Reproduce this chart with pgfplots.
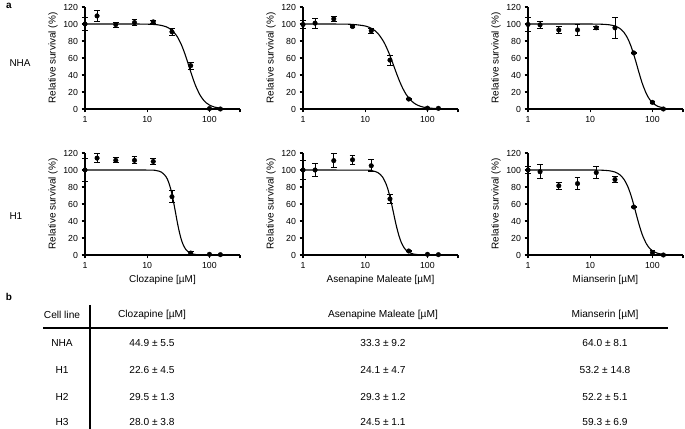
\documentclass[border=0pt]{standalone}
\usepackage{fontspec}
\setmainfont{Liberation Sans}
\usepackage{pgfplots}
\usepackage{pgfplotstable}
\pgfplotsset{compat=1.18}

\pgfplotstableread{
x y e
1 100 8
1.5625 109.5 6
3.125 99.3 3
6.25 101.7 4
12.5 102.5 2
25 90.8 4
50 51 4
100 0.5 0
150 0 0
}\dA
\pgfplotstableread{
x y e
1 99.4 5
1.5625 101 6
3.125 106 3
6.25 97 1
12.5 92 3
25 57.5 6
50 11.7 1
100 1 1
150 0.8 0
}\dB
\pgfplotstableread{
x y e
1 99.5 8
1.5625 99 4
3.125 93 4
6.25 93 6
12.5 95.5 2
25 95.5 12
50 66 1
100 7.8 1
150 0 0
}\dC
\pgfplotstableread{
x y e
1 100 14
1.5625 114 5
3.125 111.4 3
6.25 111.4 4
12.5 110 3
25 68.6 7
50 2.3 1.5
100 0.8 0
150 0.4 0
}\dD
\pgfplotstableread{
x y e
1 100 11
1.5625 100 8
3.125 111 8
6.25 112 5
12.5 105 7
25 66 5
50 4.7 1
100 0.8 0
150 0.4 0
}\dE
\pgfplotstableread{
x y e
1 100 4
1.5625 98 8
3.125 81.4 4
6.25 84 7
12.5 97 7
25 88.8 4
50 56.5 1
100 2.7 3
150 0 0
}\dF

\pgfplotsset{
  mypanel/.style={
    scale only axis, width=155bp, height=102bp,
    xmin=1, xmax=310, ymin=0, ymax=120,
    axis lines=left, axis line style={-, line width=1.6bp},
    xtick={1,10,100,310}, xticklabels={1,10,100,{}},
    ytick={0,20,40,60,80,100,120},
    minor tick length=0pt, major tick length=3.5bp,
    tick align=outside, tick style={line width=1.3bp, black},
    ticklabel style={font=\fontsize{8.8}{10}\selectfont},
    ylabel={Relative survival (\%)},
    every axis y label/.style={at={(axis description cs:0,0.5)}, xshift=-32bp, rotate=90, anchor=center, font=\fontsize{10}{11}\selectfont},
    every axis x label/.style={at={(axis description cs:0.5,0)}, yshift=-25bp, anchor=center, font=\fontsize{10}{11}\selectfont},
    clip=false,
  },
  mypts/.style={only marks, mark=*, mark size=2.3bp, black,
    error bars/y dir=both, error bars/y explicit,
    error bars/error bar style={line width=0.9bp, black},
    error bars/error mark options={rotate=90, mark size=2.8bp, line width=0.9bp, black}},
  myfit/.style={smooth, line width=1.1bp, black, no marks},
}

\begin{document}
\begin{tikzpicture}
\useasboundingbox (0,0) rectangle (685bp,429bp);

% ---------- top row: NHA ----------
\begin{semilogxaxis}[mypanel, /pgf/number format/assume math mode=true, at={(85bp,320bp)}, anchor=south west]
\addplot[myfit] coordinates {(1,100)(5,99.99)(10,99.8)(15,98.97)(20,96.83)(25,92.59)(30,85.76)(35,76.48)(40,65.59)(45,54.34)(50,43.84)(55,34.78)(60,27.35)(70,16.89)(80,10.65)(90,6.92)(100,4.65)(120,2.30)(150,0.95)};
\addplot[mypts] table[x=x,y=y,y error=e] {\dA};
\end{semilogxaxis}

\begin{semilogxaxis}[mypanel, /pgf/number format/assume math mode=true, at={(303bp,320bp)}, anchor=south west]
\addplot[myfit] coordinates {(1,100)(3,99.96)(6,99.60)(10,97.65)(13,94.31)(16,88.91)(20,78.59)(24,65.98)(28,53.07)(32,41.47)(36,31.93)(40,24.50)(45,17.69)(50,12.94)(60,7.28)(70,4.38)(85,2.27)(100,1.30)(150,0.32)};
\addplot[mypts] table[x=x,y=y,y error=e] {\dB};
\end{semilogxaxis}

\begin{semilogxaxis}[mypanel, /pgf/number format/assume math mode=true, at={(528bp,320bp)}, anchor=south west]
\addplot[myfit] coordinates {(1,100)(5,100)(10,99.96)(15,99.75)(20,99.11)(25,97.61)(30,94.73)(35,89.98)(40,83.11)(45,74.34)(50,64.32)(55,54.01)(60,44.26)(65,35.63)(70,28.40)(80,17.87)(90,11.35)(100,7.38)(120,3.39)(150,1.27)};
\addplot[mypts] table[x=x,y=y,y error=e] {\dC};
\end{semilogxaxis}

% ---------- bottom row: H1 ----------
\begin{semilogxaxis}[mypanel, /pgf/number format/assume math mode=true, at={(85bp,174bp)}, anchor=south west, xlabel={Clozapine [µM]}]
\addplot[myfit] coordinates {(1,100)(10,99.93)(14,99.31)(17,97.38)(20,92.27)(22,85.96)(24,76.91)(26,65.53)(28,53.09)(30,41.12)(32,30.77)(35,19.18)(38,11.78)(42,6.21)(46,3.39)(50,1.92)(60,0.54)(80,0.07)(150,0)};
\addplot[mypts] table[x=x,y=y,y error=e] {\dD};
\end{semilogxaxis}

\begin{semilogxaxis}[mypanel, /pgf/number format/assume math mode=true, at={(303bp,174bp)}, anchor=south west, xlabel={Asenapine Maleate [µM]}]
\addplot[myfit] coordinates {(1,100)(10,99.81)(13,99.09)(16,96.90)(19,91.77)(22,82.24)(24,73.30)(26,62.95)(28,52.13)(30,41.86)(32,32.82)(35,22.20)(38,14.84)(42,8.72)(46,5.25)(50,3.25)(60,1.11)(80,0.20)(150,0)};
\addplot[mypts] table[x=x,y=y,y error=e] {\dE};
\end{semilogxaxis}

\begin{semilogxaxis}[mypanel, /pgf/number format/assume math mode=true, at={(528bp,174bp)}, anchor=south west, xlabel={Mianserin [µM]}]
\addplot[myfit] coordinates {(1,100)(10,99.97)(15,99.79)(20,99.16)(25,97.58)(30,94.38)(35,88.90)(40,80.85)(45,70.58)(50,59.13)(55,47.80)(60,37.62)(65,29.11)(70,22.34)(80,13.16)(90,7.93)(100,4.94)(120,2.12)(150,0.74)};
\addplot[mypts] table[x=x,y=y,y error=e] {\dF};
\end{semilogxaxis}

% ---------- labels ----------
\node[anchor=center, font=\fontsize{10}{11}\selectfont\bfseries] at (9bp,423bp) {a};
\node[anchor=center, font=\fontsize{10}{11}\selectfont\bfseries] at (9bp,132bp) {b};
\node[anchor=west, font=\fontsize{10}{11}\selectfont] at (6bp,366bp) {NHA};
\node[anchor=west, font=\fontsize{10}{11}\selectfont] at (6bp,213bp) {H1};

% ---------- table ----------
\begin{scope}[every node/.style={anchor=center, font=\fontsize{10.2}{12}\selectfont}]
\draw[line width=1.4bp] (43bp,101bp) -- (668bp,101bp);
\draw[line width=1.4bp] (90bp,124bp) -- (90bp,0bp);
\node at (62bp,114bp) {Cell line};
\node at (152bp,114bp) {Clozapine [µM]};
\node at (383bp,114bp) {Asenapine Maleate [µM]};
\node at (605bp,114bp) {Mianserin [µM]};
\node at (62bp,86bp) {NHA};
\node at (152bp,86bp) {44.9 ± 5.5};
\node at (383bp,86bp) {33.3 ± 9.2};
\node at (605bp,86bp) {64.0 ± 8.1};
\node at (62bp,59bp) {H1};
\node at (152bp,59bp) {22.6 ± 4.5};
\node at (383bp,59bp) {24.1 ± 4.7};
\node at (605bp,59bp) {53.2 ± 14.8};
\node at (62bp,32bp) {H2};
\node at (152bp,32bp) {29.5 ± 1.3};
\node at (383bp,32bp) {29.3 ± 1.2};
\node at (605bp,32bp) {52.2 ± 5.1};
\node at (62bp,7bp) {H3};
\node at (152bp,7bp) {28.0 ± 3.8};
\node at (383bp,7bp) {24.5 ± 1.1};
\node at (605bp,7bp) {59.3 ± 6.9};
\end{scope}
\end{tikzpicture}
\end{document}
